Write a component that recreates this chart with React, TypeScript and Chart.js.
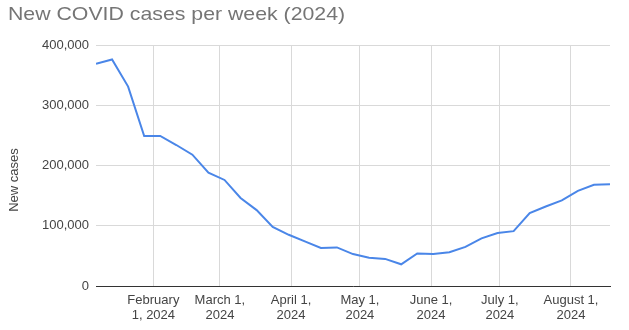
import React, { useEffect, useRef } from "react";
import { Chart, registerables } from "chart.js";

Chart.register(...registerables);

const TITLE = "New COVID cases per week (2024)";
const Y_TITLE = "New cases";

const weekDates: string[] = [
  "2024-01-07", "2024-01-14", "2024-01-21", "2024-01-28",
  "2024-02-04", "2024-02-11", "2024-02-18", "2024-02-25",
  "2024-03-03", "2024-03-10", "2024-03-17", "2024-03-24", "2024-03-31",
  "2024-04-07", "2024-04-14", "2024-04-21", "2024-04-28",
  "2024-05-05", "2024-05-12", "2024-05-19", "2024-05-26",
  "2024-06-02", "2024-06-09", "2024-06-16", "2024-06-23", "2024-06-30",
  "2024-07-07", "2024-07-14", "2024-07-21", "2024-07-28",
  "2024-08-04", "2024-08-11", "2024-08-18",
];

const newCases: number[] = [
  369000, 376000, 331000, 249000,
  249000, 234000, 218000, 188000,
  176000, 146000, 126000, 98000, 85000,
  74000, 63000, 64000, 53000,
  47000, 45000, 36000, 54000,
  53000, 56000, 65000, 79000, 88000,
  91000, 121000, 132000, 142000,
  158000, 168000, 169000,
];

const tickDates: string[] = [
  "2024-02-01", "2024-03-01", "2024-04-01", "2024-05-01",
  "2024-06-01", "2024-07-01", "2024-08-01",
];

const tickLabels: string[][] = [
  ["February", "1, 2024"],
  ["March 1,", "2024"],
  ["April 1,", "2024"],
  ["May 1,", "2024"],
  ["June 1,", "2024"],
  ["July 1,", "2024"],
  ["August 1,", "2024"],
];

const yTicks: number[] = [0, 100000, 200000, 300000, 400000];

function dayOfYear(s: string): number {
  const [y, m, d] = s.split("-").map(Number);
  return (Date.UTC(y, m - 1, d) - Date.UTC(2024, 0, 1)) / 86400000;
}

const FONT = "'Liberation Sans', Arial, sans-serif";

export default function App() {
  const ref = useRef<HTMLCanvasElement | null>(null);

  useEffect(() => {
    document.body.style.margin = "0";
    const canvas = ref.current;
    if (!canvas) return;

    const points = weekDates.map((d, i) => ({ x: dayOfYear(d), y: newCases[i] }));
    const tickDays = tickDates.map(dayOfYear);

    const textPlugin = {
      id: "textPlugin",
      afterDraw(chart: any) {
        const ctx = chart.ctx;
        ctx.save();
        ctx.fillStyle = "#757575";
        ctx.font = `19px ${FONT}`;
        ctx.textAlign = "left";
        ctx.textBaseline = "alphabetic";
        ctx.translate(8, 20);
        ctx.scale(1.12, 1);
        ctx.fillText(TITLE, 0, 0);
        ctx.restore();

        ctx.save();
        ctx.translate(14, 180);
        ctx.rotate(-Math.PI / 2);
        ctx.fillStyle = "#444444";
        ctx.font = `13px ${FONT}`;
        ctx.textAlign = "center";
        ctx.textBaseline = "middle";
        ctx.fillText(Y_TITLE, 0, 0);
        ctx.restore();
      },
    };

    const chart = new Chart(canvas, {
      type: "line",
      data: {
        datasets: [
          {
            label: Y_TITLE,
            data: points,
            borderColor: "#4a86e8",
            backgroundColor: "#4a86e8",
            borderWidth: 2,
            pointRadius: 0,
            tension: 0,
          },
        ],
      },
      options: {
        responsive: false,
        animation: false,
        layout: { padding: { top: 45, right: 19, left: 0, bottom: 0 } },
        plugins: {
          legend: { display: false },
          title: { display: false },
          tooltip: { enabled: false },
        },
        scales: {
          x: {
            type: "linear",
            min: dayOfYear(weekDates[0]),
            max: dayOfYear(weekDates[weekDates.length - 1]),
            afterBuildTicks: (scale: any) => {
              scale.ticks = tickDays.map((v) => ({ value: v }));
            },
            afterFit: (scale: any) => {
              scale.height = 44;
            },
            grid: { color: "#d9d9d9", drawTicks: false },
            border: { display: true, color: "#333333", width: 1 },
            ticks: {
              autoSkip: false,
              maxRotation: 0,
              padding: 7,
              color: "#444444",
              font: { family: FONT, size: 13, lineHeight: 1.15 },
              callback: (_v: any, i: number) => tickLabels[i],
            },
          },
          y: {
            min: 0,
            max: 400000,
            afterBuildTicks: (scale: any) => {
              scale.ticks = yTicks.map((v) => ({ value: v }));
            },
            afterFit: (scale: any) => {
              scale.width = 96;
            },
            grid: { color: "#d9d9d9", drawTicks: false },
            border: { display: false },
            ticks: {
              padding: 7,
              color: "#444444",
              font: { family: FONT, size: 13 },
              callback: (v: any) => Number(v).toLocaleString("en-US"),
            },
          },
        },
      },
      plugins: [textPlugin],
    });

    return () => chart.destroy();
  }, []);

  return (
    <div style={{ width: 629, height: 330 }}>
      <canvas ref={ref} width={629} height={330} />
    </div>
  );
}
